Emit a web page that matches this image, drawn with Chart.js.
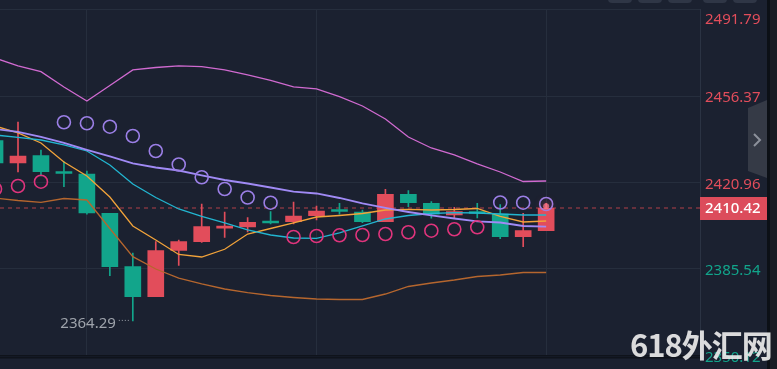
<!DOCTYPE html>
<html>
<head>
<meta charset="utf-8">
<script src="https://cdn.jsdelivr.net/npm/chart.js@4.4.1/dist/chart.umd.min.js"></script>
<style>
  html, body { margin: 0; padding: 0; background: #1b2130; }
  #wrap { position: relative; width: 777px; height: 369px; overflow: hidden; }
  #watermark {
    position: absolute; left: 630px; top: 321px;
    font: bold 31px "Noto Sans CJK SC", "Noto Sans", sans-serif;
    color: rgba(236, 236, 236, 0.92); letter-spacing: -1px; white-space: nowrap;
  }
</style>
</head>
<body>
<div id="wrap">
  <canvas id="chart" width="777" height="369"></canvas>
  <div id="watermark">618外汇网</div>
</div>
<script>
// candle slots (first one is cut by the left edge)
const slots = [-1, 0, 1, 2, 3, 4, 5, 6, 7, 8, 9, 10, 11, 12, 13, 14, 15, 16, 17, 18, 19, 20, 21, 22, 23];

const opens  = [2438.08, 2428.95, 2431.93, 2425.26, 2424.44, 2408.35, 2386.48, 2374.20, 2393.11, 2396.72, 2402.25, 2402.74, 2404.99, 2404.91, 2407.36, 2409.70, 2408.88, 2404.91, 2416.13, 2412.44, 2407.65, 2408.88, 2408.06, 2398.77, 2401.22];
const highs  = [2439.18, 2445.73, 2434.27, 2429.48, 2425.67, 2408.35, 2392.09, 2396.72, 2397.41, 2412.16, 2408.88, 2406.55, 2409.00, 2412.97, 2411.34, 2412.44, 2409.70, 2418.18, 2417.60, 2413.10, 2410.80, 2412.44, 2411.95, 2408.35, 2412.44];
const lows   = [2428.13, 2425.26, 2423.62, 2419.24, 2407.94, 2382.79, 2364.29, 2374.20, 2386.97, 2396.39, 2398.44, 2400.69, 2403.97, 2403.97, 2405.60, 2407.94, 2404.50, 2404.91, 2411.05, 2406.30, 2406.30, 2406.42, 2397.95, 2394.67, 2401.22];
const closes = [2428.95, 2431.81, 2425.38, 2424.65, 2408.47, 2386.48, 2374.20, 2393.03, 2396.72, 2402.86, 2402.82, 2404.66, 2404.38, 2407.24, 2409.29, 2409.08, 2404.91, 2416.13, 2412.69, 2407.94, 2409.00, 2408.27, 2398.77, 2401.22, 2410.42];

// bollinger bands
const bollUpper = [2471.94, 2468.67, 2466.33, 2460.07, 2454.33, 2460.68, 2467.03, 2468.05, 2468.67, 2468.38, 2467.03, 2464.98, 2462.73, 2460.07, 2459.25, 2456.10, 2452.29, 2446.96, 2439.59, 2435.09, 2432.22, 2428.54, 2425.26, 2421.37, 2421.57];
const bollMid   = [2442.87, 2441.64, 2439.59, 2437.14, 2434.27, 2431.61, 2428.82, 2427.10, 2425.87, 2423.83, 2421.98, 2420.55, 2418.91, 2417.19, 2416.46, 2414.61, 2412.36, 2410.52, 2408.88, 2407.45, 2406.22, 2405.07, 2404.58, 2403.15, 2402.86];
const bollLower = [2414.61, 2413.59, 2412.85, 2414.41, 2413.79, 2402.12, 2390.58, 2385.54, 2381.85, 2379.40, 2377.35, 2375.83, 2374.69, 2373.87, 2373.25, 2373.05, 2373.05, 2375.30, 2378.37, 2379.81, 2381.03, 2382.47, 2383.08, 2384.10, 2384.10];

// moving averages
const ma10 = [2440.41, 2439.39, 2438.36, 2436.32, 2433.86, 2428.13, 2420.35, 2414.82, 2410.11, 2407.04, 2404.38, 2401.51, 2399.46, 2398.23, 2398.11, 2400.28, 2403.15, 2406.01, 2407.45, 2408.27, 2408.59, 2408.47, 2408.06, 2407.65, 2407.65];
const ma5  = [2444.10, 2441.23, 2437.14, 2429.35, 2423.62, 2415.02, 2403.15, 2397.41, 2391.48, 2390.45, 2393.61, 2399.87, 2402.12, 2404.38, 2406.83, 2407.45, 2408.27, 2409.70, 2409.99, 2409.70, 2409.90, 2410.31, 2407.04, 2404.78, 2405.19];

// parabolic SAR
const sar = [2418.30, 2419.53, 2421.29, 2445.61, 2445.20, 2443.81, 2440.00, 2433.86, 2428.33, 2423.09, 2418.30, 2414.82, 2412.69, 2398.64, 2399.05, 2399.34, 2399.46, 2399.87, 2400.57, 2401.22, 2401.80, 2402.61, 2412.77, 2412.69, 2412.16];

const yTicks = [2350.12, 2385.54, 2420.96, 2456.37, 2491.79];
const xGridSlots = [3, 13, 23];
const lastPrice = 2410.42;
const lowPrice = 2364.29;

const RED = '#e24d5b';
const GREEN = '#12a58b';
const GRID = '#262e3d';

const isUp = i => closes[i] >= opens[i];
const pts = arr => slots.map((s, i) => ({ x: s, y: arr[i] }));

// dashed last price line behind the candles
const priceLine = {
  id: 'priceLine',
  beforeDatasetsDraw(chart) {
    const { ctx, chartArea } = chart;
    const y = Math.round(chart.scales.y.getPixelForValue(lastPrice));
    ctx.save();
    ctx.strokeStyle = '#66303c';
    ctx.lineWidth = 2;
    ctx.setLineDash([4, 4]);
    ctx.beginPath();
    ctx.moveTo(chartArea.left, y);
    ctx.lineTo(chartArea.right, y);
    ctx.stroke();
    ctx.restore();
  }
};

// axis labels, price tag, low marker and the panel bits round the chart
const overlay = {
  id: 'overlay',
  afterDraw(chart) {
    const { ctx, chartArea } = chart;
    const yS = chart.scales.y, xS = chart.scales.x;
    ctx.save();

    // bottom pane edge
    ctx.fillStyle = '#0f131b';
    ctx.fillRect(0, chartArea.bottom + 1, chartArea.right, 2);

    // glow on the live candle
    const lx = xS.getPixelForValue(slots[slots.length - 1]);
    const ly = yS.getPixelForValue(lastPrice);
    ctx.shadowColor = '#ff5a70';
    ctx.shadowBlur = 8;
    ctx.fillStyle = 'rgba(255,120,140,0.75)';
    ctx.beginPath();
    ctx.arc(lx, ly - 2, 3, 0, Math.PI * 2);
    ctx.fill();
    ctx.shadowBlur = 0;

    // y tick labels
    ctx.font = '15px "Noto Sans", sans-serif';
    ctx.textAlign = 'left';
    ctx.textBaseline = 'middle';
    yTicks.forEach(v => {
      const y = Math.max(yS.getPixelForValue(v) + 2, 20);
      ctx.fillStyle = v > lastPrice ? RED : GREEN;
      ctx.fillText(v.toFixed(2), chartArea.right + 5, y);
    });

    // last price tag
    ctx.fillStyle = '#dc4c5b';
    ctx.fillRect(chartArea.right, Math.round(ly) - 11, 67, 23);
    ctx.fillStyle = '#ffffff';
    ctx.font = '500 15px "Noto Sans", sans-serif';
    ctx.fillText(lastPrice.toFixed(2), chartArea.right + 5, Math.round(ly) + 1);

    // lowest low marker
    const lowIdx = lows.indexOf(lowPrice);
    const px = xS.getPixelForValue(slots[lowIdx]);
    const py = yS.getPixelForValue(lowPrice);
    ctx.fillStyle = '#9ea3ab';
    ctx.font = '15px "Noto Sans", sans-serif';
    ctx.textAlign = 'right';
    ctx.fillText(lowPrice.toFixed(2), px - 17, py + 3);
    ctx.strokeStyle = '#9ea3ab';
    ctx.lineWidth = 1;
    ctx.setLineDash([1, 2]);
    ctx.beginPath();
    ctx.moveTo(px - 14, py - 0.5);
    ctx.lineTo(px - 2, py - 0.5);
    ctx.stroke();
    ctx.setLineDash([]);

    // collapse tab
    ctx.fillStyle = '#353a46';
    ctx.beginPath();
    ctx.moveTo(748, 108);
    ctx.lineTo(767, 100);
    ctx.lineTo(767, 178);
    ctx.lineTo(748, 171);
    ctx.closePath();
    ctx.fill();
    ctx.strokeStyle = '#8c919b';
    ctx.lineWidth = 2;
    ctx.beginPath();
    ctx.moveTo(754, 134);
    ctx.lineTo(760, 140);
    ctx.lineTo(754, 146);
    ctx.stroke();

    // right edge strip
    ctx.fillStyle = '#0c1016';
    ctx.fillRect(767, 0, 3, 369);
    ctx.fillStyle = '#191d25';
    ctx.fillRect(770, 0, 7, 369);

    // toolbar buttons peeking at the top
    ctx.fillStyle = '#2f3646';
    [608, 638, 668, 703, 733].forEach(bx => {
      ctx.beginPath();
      ctx.roundRect(bx, -6, 24, 9, 4);
      ctx.fill();
    });

    ctx.restore();
  }
};

new Chart(document.getElementById('chart'), {
  type: 'bar',
  data: {
    datasets: [
      {
        label: 'wick',
        data: slots.map((s, i) => ({ x: s, y: [lows[i], highs[i]] })),
        backgroundColor: ctx => isUp(ctx.dataIndex) ? RED : GREEN,
        barThickness: 1,
        grouped: false,
        order: 6
      },
      {
        label: 'body',
        data: slots.map((s, i) => ({ x: s, y: [opens[i], closes[i]] })),
        backgroundColor: ctx => isUp(ctx.dataIndex) ? RED : GREEN,
        barThickness: 16,
        minBarLength: 2,
        grouped: false,
        order: 5
      },
      { type: 'line', label: 'BOLL UP', data: pts(bollUpper), borderColor: '#d06ad0', borderWidth: 1.3, pointRadius: 0, tension: 0, order: 4 },
      { type: 'line', label: 'BOLL DN', data: pts(bollLower), borderColor: '#b5662e', borderWidth: 1.3, pointRadius: 0, tension: 0, order: 4 },
      { type: 'line', label: 'BOLL MB', data: pts(bollMid), borderColor: '#a08af5', borderWidth: 1.8, pointRadius: 0, tension: 0, order: 3 },
      { type: 'line', label: 'MA10', data: pts(ma10), borderColor: '#22b5d0', borderWidth: 1.3, pointRadius: 0, tension: 0, order: 3 },
      { type: 'line', label: 'MA5', data: pts(ma5), borderColor: '#f2a33a', borderWidth: 1.3, pointRadius: 0, tension: 0, order: 3 },
      {
        type: 'line',
        label: 'SAR',
        data: pts(sar),
        showLine: false,
        pointRadius: 6.5,
        pointBorderWidth: 1.6,
        pointBackgroundColor: 'rgba(0,0,0,0)',
        pointBorderColor: ctx => sar[ctx.dataIndex] > closes[ctx.dataIndex] ? '#9b7fe6' : '#df347c',
        order: 1
      }
    ]
  },
  options: {
    responsive: false,
    animation: false,
    events: [],
    layout: { autoPadding: false, padding: { top: 9.5, bottom: 13.5, left: 0, right: 0 } },
    plugins: {
      legend: { display: false },
      tooltip: { enabled: false }
    },
    scales: {
      x: {
        type: 'linear',
        min: -0.784,
        max: 29.70,
        offset: false,
        ticks: { display: false },
        grid: { color: GRID, offset: false, drawTicks: false },
        border: { display: false },
        afterBuildTicks: s => { s.ticks = xGridSlots.map(v => ({ value: v })); },
        afterFit: s => { s.height = 0; }
      },
      y: {
        position: 'right',
        min: yTicks[0],
        max: yTicks[yTicks.length - 1],
        ticks: { display: false },
        grid: {
          color: ctx => ctx.tick && ctx.tick.value === yTicks[0] ? '#0f131b' : GRID,
          drawTicks: false
        },
        border: { color: '#2b3343' },
        afterBuildTicks: s => { s.ticks = yTicks.map(v => ({ value: v })); },
        afterFit: s => { s.width = 77; }
      }
    }
  },
  plugins: [priceLine, overlay]
});
</script>
</body>
</html>
